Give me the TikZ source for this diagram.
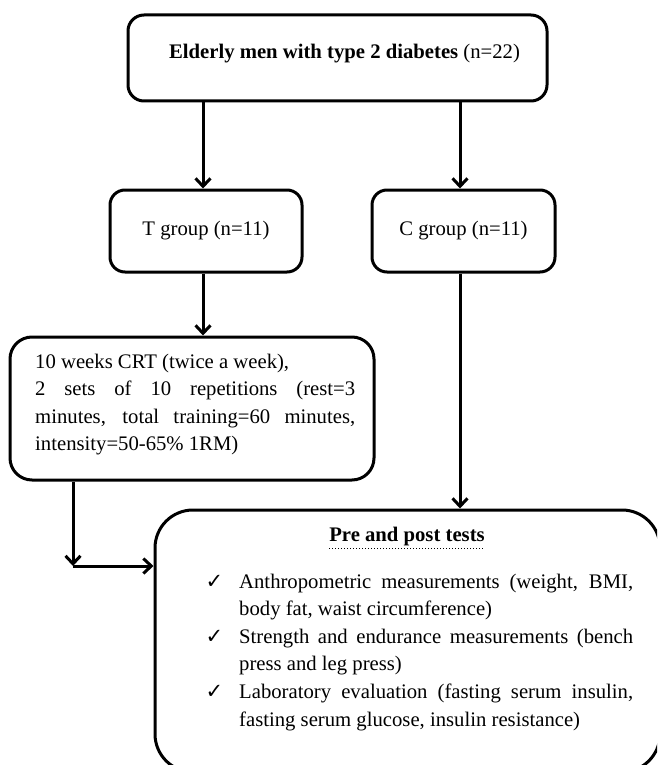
\documentclass[tikz,border=0pt]{standalone}
\usepackage{fontspec}
\setmainfont{Liberation Serif}
\newfontfamily\chkfont{DejaVu Sans}
\usetikzlibrary{arrows.meta}
\tikzset{
  box/.style={draw=black, line width=3pt, fill=white, inner sep=0pt},
  arr/.style={line width=3pt, -{Straight Barb[length=8pt,width=15pt]}},
  txt/.style={inner sep=0pt, font=\fontsize{20.7}{27.6}\selectfont},
}
\newcommand{\chk}{\noindent\llap{{\chkfont\fontsize{21}{21}\selectfont ✓}\hspace{16pt}}}
\begin{document}
\begin{tikzpicture}[x=1pt,y=-1pt]
\useasboundingbox (0,0) rectangle (657,765);
\clip (0,0) rectangle (657,765);
% boxes
\node[box, rounded corners=16pt, minimum width=419pt, minimum height=86pt] (top) at (337.5,58) {};
\node[txt, anchor=base] (toptxt) at (344.5,59) {\textbf{Elderly men with type 2 diabetes} (n=22)};
\node[box, rounded corners=15pt, minimum width=192pt, minimum height=82pt, txt] (T) at (206,231) {T group (n=11)};
\node[box, rounded corners=15pt, minimum width=183pt, minimum height=82pt, txt] (C) at (463.5,231) {C group (n=11)};
\node[box, rounded corners=22pt, minimum width=364pt, minimum height=143pt] (crt) at (192,408.5) {};
\node[txt, anchor=base west, text width=320pt, align=justify] (crttxt) at (35,368)
  {10 weeks CRT (twice a week),\\
   2 sets of 10 repetitions (rest=3 minutes, total training=60 minutes, intensity=50-65\% 1RM)};
\node[box, rounded corners=38pt, minimum width=505pt, minimum height=262pt] (tests) at (407.5,641) {};
\node[txt, anchor=base, font=\fontsize{20.7}{27.6}\selectfont\bfseries] (title) at (407,541) {Pre and post tests};
\draw[line width=1pt, dotted] (title.south west) ++(0,3) coordinate (ul1) -- (title.south east |- ul1);
\node[txt, anchor=base west, text width=394pt, align=justify] (items) at (239,588)
  {\chk Anthropometric measurements (weight, BMI, body fat, waist circumference)\par
   \chk Strength and endurance measurements (bench press and leg press)\par
   \chk Laboratory evaluation (fasting serum insulin, fasting serum glucose, insulin resistance)};
% connectors
\draw[arr] (top.south -| 203,0) -- (T.north -| 203,0);
\draw[arr] (top.south -| 460,0) -- (C.north -| 460,0);
\draw[arr] (T.south -| 203,0) -- (crt.north -| 203,0);
\draw[arr] (C.south -| 460,0) -- (tests.north -| 460,0);
\coordinate (bend) at (73,566);
\draw[arr] (crt.south -| bend) -- (bend);
\draw[arr] (bend) -- (tests.west |- bend);
\end{tikzpicture}
\end{document}
